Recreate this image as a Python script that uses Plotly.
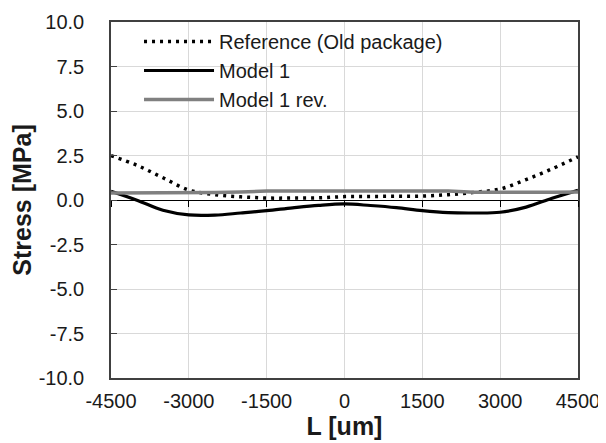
import plotly.graph_objects as go

L_um = [-4500, -4000, -3500, -3000, -2500, -2000, -1500, -1000, -500, 0, 500, 1000, 1500, 2000, 2500, 3000, 3500, 4000, 4500]
ref_old = [2.49, 1.95, 1.25, 0.56, 0.30, 0.18, 0.11, 0.11, 0.12, 0.19, 0.20, 0.21, 0.22, 0.30, 0.43, 0.62, 1.15, 1.75, 2.43]
model1 = [0.49, -0.01, -0.58, -0.84, -0.85, -0.73, -0.60, -0.44, -0.30, -0.22, -0.31, -0.43, -0.60, -0.71, -0.73, -0.69, -0.40, 0.10, 0.55]
model1_rev = [0.40, 0.40, 0.40, 0.42, 0.42, 0.45, 0.50, 0.50, 0.50, 0.50, 0.50, 0.50, 0.50, 0.50, 0.44, 0.43, 0.43, 0.43, 0.45]

x_ticks = [-4500, -3000, -1500, 0, 1500, 3000, 4500]
y_ticks = [-10.0, -7.5, -5.0, -2.5, 0.0, 2.5, 5.0, 7.5, 10.0]

fig = go.Figure()
fig.add_trace(go.Scatter(x=L_um, y=ref_old, mode="lines", name="Reference (Old package)",
                         line=dict(color="black", width=3.5, dash="3px,5px", shape="spline")))
fig.add_trace(go.Scatter(x=L_um, y=model1, mode="lines", name="Model 1",
                         line=dict(color="black", width=3.2, shape="spline")))
fig.add_trace(go.Scatter(x=L_um, y=model1_rev, mode="lines", name="Model 1 rev.",
                         line=dict(color="#808080", width=3.5)))

font = "Liberation Sans, Arial, sans-serif"
# page body has an 8px default margin, so the figure is sized/offset to compensate
fig.update_layout(
    width=598, height=435,
    margin=dict(l=103, r=28, t=14, b=65),
    paper_bgcolor="white", plot_bgcolor="white",
    font=dict(family=font, size=20, color="#1a1a1a"),
    showlegend=True,
    legend=dict(x=0.06, y=1.0, xanchor="left", yanchor="top", bgcolor="rgba(0,0,0,0)",
                font=dict(size=20), itemwidth=70, tracegroupgap=0),
    xaxis=dict(range=[-4500, 4500], tickvals=x_ticks, ticktext=[str(v) for v in x_ticks],
               showgrid=True, gridcolor="#d9d9d9", gridwidth=1, zeroline=False,
               showline=True, linecolor="#404040", linewidth=1.5, mirror=True,
               ticks="", ticklabelstandoff=4, automargin=False, ticklabeloverflow="allow",
               title=dict(text="<b>L [um]</b>", font=dict(size=25), standoff=2)),
    yaxis=dict(range=[-10, 10], tickvals=y_ticks, ticktext=[f"{v:.1f}" for v in y_ticks],
               showgrid=True, gridcolor="#d9d9d9", gridwidth=1, zeroline=False,
               showline=True, linecolor="#404040", linewidth=1.5, mirror=True,
               ticks="inside", ticklen=6, tickcolor="#404040", ticklabelstandoff=21,
               automargin=False, ticklabeloverflow="allow",
               title=dict(text="<b>Stress [MPa]</b>", font=dict(size=25), standoff=5)),
    xaxis2=dict(overlaying="x", anchor="free", position=0.5, side="bottom",
                range=[-4500, 4500], tickvals=x_ticks, showticklabels=False,
                showgrid=False, zeroline=False, showline=True, linecolor="black", linewidth=1,
                ticks="outside", ticklen=6, tickcolor="black", automargin=False),
)
fig.add_trace(go.Scatter(x=[None], y=[None], xaxis="x2", showlegend=False, hoverinfo="skip"))

fig.write_html("out.html")
